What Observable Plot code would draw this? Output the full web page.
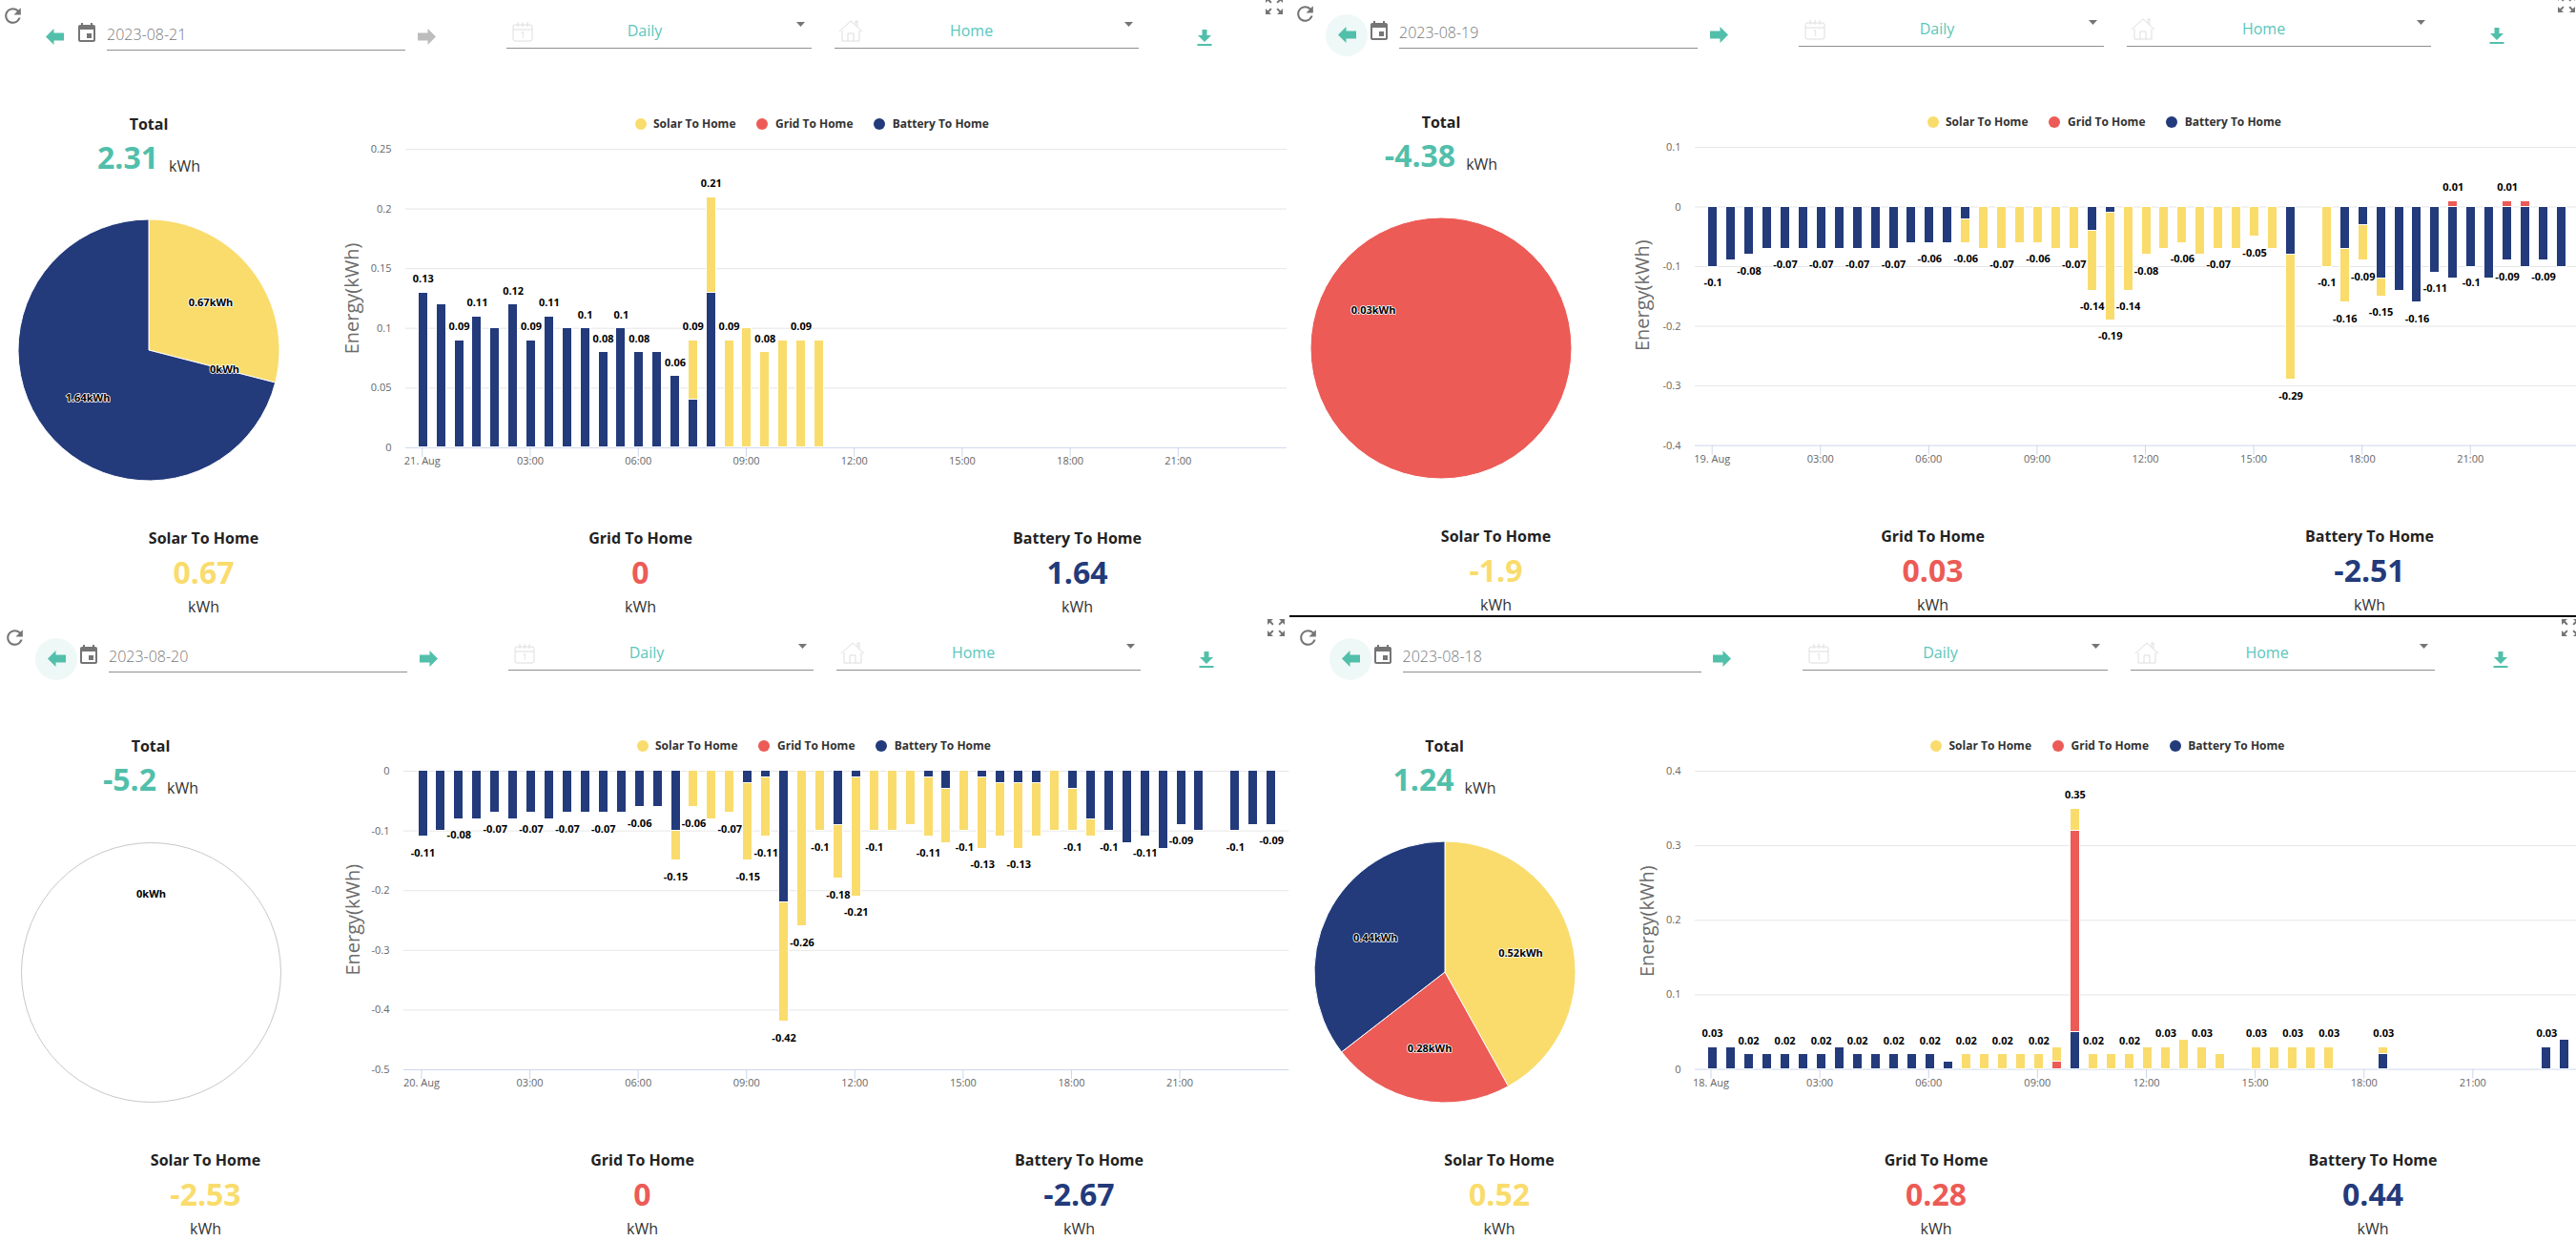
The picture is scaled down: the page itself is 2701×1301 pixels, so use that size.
<!DOCTYPE html>
<html>
<head>
<meta charset="utf-8">
<script src="https://cdn.jsdelivr.net/npm/d3@7"></script>
<script src="https://cdn.jsdelivr.net/npm/@observablehq/plot@0.6"></script>
<style>
html,body{margin:0;padding:0;background:#fff;overflow:hidden}
body{position:relative;width:2701px;height:1301px;font-family:"Open Sans",sans-serif}
.t{position:absolute;transform:translate(-50%,-50%);line-height:1;white-space:nowrap}
.l{position:absolute;transform:translateY(-50%);line-height:1;white-space:nowrap}
.b{position:absolute}
svg.i{position:absolute;overflow:visible}
</style>
</head>
<body>
<script>
// ---------- data (kWh per half hour slot) ----------
const slots = d3.range(48);
const seriesNames = ["Solar To Home", "Grid To Home", "Battery To Home"];
const seriesColors = ["#f9dc6c", "#ec5b56", "#233a7b"];
const hourTicks = [0, 6, 12, 18, 24, 30, 36, 42];
const hourLabels = ["03:00", "06:00", "09:00", "12:00", "15:00", "18:00", "21:00"];

const solar21 = [0,0,0,0,0,0,0,0,0,0,0,0,0,0,0,.05,.08,.09,.10,.08,.09,.09,.09,0,0,0,0,0,0,0,0,0,0,0,0,0,0,0,0,0,0,0,0,0,0,0,0,0];
const grid21 = slots.map(() => 0);
const battery21 = [.13,.12,.09,.11,.10,.12,.09,.11,.10,.10,.08,.10,.08,.08,.06,.04,.13,0,0,0,0,0,0,0,0,0,0,0,0,0,0,0,0,0,0,0,0,0,0,0,0,0,0,0,0,0,0,0];
const labelled21 = [0,2,3,5,6,7,9,10,11,12,14,15,16,17,19,21];
const yTicks21 = [0,.05,.1,.15,.2,.25];

const solar19 = [0,0,0,0,0,0,0,0,0,0,0,0,0,0,-.04,-.07,-.07,-.06,-.06,-.07,-.07,-.10,-.18,-.14,-.08,-.07,-.06,-.08,-.07,-.07,-.05,-.07,-.21,0,-.10,-.09,-.06,-.03,0,0,0,0,0,0,0,0,0,0];
const grid19 = [0,0,0,0,0,0,0,0,0,0,0,0,0,0,0,0,0,0,0,0,0,0,0,0,0,0,0,0,0,0,0,0,0,0,0,0,0,0,0,0,0,.01,0,0,.01,.01,0,0];
const battery19 = [-.10,-.09,-.08,-.07,-.07,-.07,-.07,-.07,-.07,-.07,-.07,-.06,-.06,-.06,-.02,0,0,0,0,0,0,-.04,-.01,0,0,0,0,0,0,0,0,0,-.08,0,0,-.07,-.03,-.12,-.14,-.16,-.11,-.12,-.10,-.12,-.09,-.10,-.09,-.10];
const labelled19 = [0,2,4,6,8,10,12,14,16,18,20,21,22,23,24,26,28,30,32,34,35,36,37,39,40,42,44,46];
const labelledUp19 = [41,44];
const yTicks19 = [-.4,-.3,-.2,-.1,0,.1];

const solar20 = [0,0,0,0,0,0,0,0,0,0,0,0,0,0,-.05,-.06,-.08,-.07,-.13,-.10,-.20,-.26,-.10,-.09,-.20,-.10,-.10,-.09,-.10,-.09,-.10,-.12,-.09,-.11,-.09,-.10,-.07,-.03,0,0,0,0,0,0,0,0,0,0];
const grid20 = slots.map(() => 0);
const battery20 = [-.11,-.10,-.08,-.08,-.07,-.08,-.07,-.08,-.07,-.07,-.07,-.07,-.06,-.06,-.10,0,0,0,-.02,-.01,-.22,0,0,-.09,-.01,0,0,0,-.01,-.03,0,-.01,-.02,-.02,-.02,0,-.03,-.08,-.10,-.12,-.11,-.13,-.09,-.10,0,-.10,-.09,-.09];
const labelled20 = [0,2,4,6,8,10,12,14,15,17,18,19,20,21,22,23,24,25,28,30,31,33,36,38,40,42,45,47];
const yTicks20 = [-.5,-.4,-.3,-.2,-.1,0];

const solar18 = [0,0,0,0,0,0,0,0,0,0,0,0,0,0,.02,.02,.02,.02,.02,.02,.03,.02,.02,.02,.03,.03,.04,.03,.02,0,.03,.03,.03,.03,.03,0,0,.01,0,0,0,0,0,0,0,0,0,0];
const grid18 = [0,0,0,0,0,0,0,0,0,0,0,0,0,0,0,0,0,0,0,.01,.27,0,0,0,0,0,0,0,0,0,0,0,0,0,0,0,0,0,0,0,0,0,0,0,0,0,0,0];
const battery18 = [.03,.03,.02,.02,.02,.02,.02,.03,.02,.02,.02,.02,.02,.01,0,0,0,0,0,0,.05,0,0,0,0,0,0,0,0,0,0,0,0,0,0,0,0,.02,0,0,0,0,0,0,0,0,.03,.04];
const labelled18 = [0,2,4,6,8,10,12,14,16,18,20,21,23,25,27,30,32,34,37,46];
const yTicks18 = [0,.1,.2,.3,.4];

const dates = ["2023-08-21","2023-08-19","2023-08-20","2023-08-18"];
const firstTicks = ["21. Aug","19. Aug","20. Aug","18. Aug"];
const totals = ["2.31","-4.38","-5.2","1.24"];
const solarTotals = ["0.67","-1.9","-2.53","0.52"];
const gridTotals = ["0","0.03","0","0.28"];
const batteryTotals = ["1.64","-2.51","-2.67","0.44"];
const pieValues = [[.67,0,1.64],[0,.03,0],[0,0,0],[.52,.28,.44]];

// ---------- layout of the four dashboards ----------
const panels = [
 {i:0,solar:solar21,grid:grid21,battery:battery21,down:[],up:labelled21,yTicks:yTicks21,dom:[0,.25],yTop:155.5,yBot:468.4,left:425,right:1349,c0:443.3,step:18.87,tickDx:-1,titleX:369,titleY:312,dx:0,dy:0,circle:false,nextOff:true,pie:[156,367]},
 {i:1,solar:solar19,grid:grid19,battery:battery19,down:labelled19,up:labelledUp19,yTicks:yTicks19,dom:[-.4,.1],yTop:153.8,yBot:466.4,left:1777,right:2701,c0:1795.7,step:18.93,tickDx:-1,titleX:1722,titleY:309,dx:1355,dy:-2,circle:true,pie:[1511,365],labelAngle:299},
 {i:2,solar:solar20,grid:grid20,battery:battery20,down:labelled20,up:[],yTicks:yTicks20,dom:[-.5,0],yTop:807.8,yBot:1120.8,left:422.7,right:1351,c0:442.7,step:18.93,tickDx:-1.5,titleX:370,titleY:963.5,dx:2,dy:652,circle:true,pie:[158.4,1019],labelAngle:0},
 {i:3,solar:solar18,grid:grid18,battery:battery18,down:[],up:labelled18,yTicks:yTicks18,dom:[0,.4],yTop:807.8,yBot:1120.4,left:1777,right:2701,c0:1795,step:19.02,tickDx:-1.5,titleX:1727,titleY:965,dx:1358.5,dy:652,circle:true,pie:[1515.3,1019]}
];
const PIE_R = 137;

// ---------- helpers ----------
const body = document.body;
function text(cls,x,y,str,style){
  const d=document.createElement("div");d.className=cls;d.textContent=str;
  d.style.left=x+"px";d.style.top=y+"px";Object.assign(d.style,style||{});body.appendChild(d);return d;
}
function box(x,y,w,h,color,extra){
  const d=document.createElement("div");d.className="b";
  Object.assign(d.style,{left:x+"px",top:y+"px",width:w+"px",height:h+"px",background:color},extra||{});
  body.appendChild(d);
}
function icon(x,y,size,vb,inner){
  const s=document.createElementNS("http://www.w3.org/2000/svg","svg");
  s.setAttribute("class","i");s.setAttribute("viewBox",vb);s.setAttribute("width",size);s.setAttribute("height",size);
  s.style.left=(x-size/2)+"px";s.style.top=(y-size/2)+"px";s.innerHTML=inner;body.appendChild(s);
}
const TEAL="#52bfab", GREY="#757575", LIGHT="#dedede";
const ICON_REFRESH='<path fill="'+GREY+'" d="M17.65 6.35A7.958 7.958 0 0 0 12 4c-4.42 0-7.99 3.58-7.99 8s3.57 8 7.99 8c3.73 0 6.84-2.55 7.73-6h-2.08A5.99 5.99 0 0 1 12 18c-3.31 0-6-2.69-6-6s2.69-6 6-6c1.66 0 3.14.69 4.22 1.78L13 11h7V4l-2.35 2.35z"/>';
const ICON_EVENT='<path fill="'+GREY+'" d="M17 12h-5v5h5v-5zM16 1v2H8V1H6v2H5c-1.11 0-1.99.9-1.99 2L3 19a2 2 0 0 0 2 2h14c1.1 0 2-.9 2-2V5c0-1.1-.9-2-2-2h-1V1h-2zm3 18H5V8h14v11z"/>';
const ICON_EXPAND='<path fill="'+GREY+'" d="M15 3l2.3 2.3-2.89 2.87 1.42 1.42L18.7 6.7 21 9V3zM3 9l2.3-2.3 2.87 2.89 1.42-1.42L6.7 5 9 3H3zm6 12l-2.3-2.3 2.89-2.87-1.42-1.42L5.3 17.3 3 15v6zm12-6l-2.3 2.3-2.87-2.89-1.42 1.42 2.89 2.87L15 21h6z"/>';
const arrow=(c,flip)=>'<polygon fill="'+c+'" points="0,9.5 8.5,1 8.5,5.5 19,5.5 19,13.5 8.5,13.5 8.5,18" '+(flip?'transform="translate(19,0) scale(-1,1)"':'')+'/>';
const ICON_DOWNLOAD='<polygon fill="'+TEAL+'" points="5.5,0 10.5,0 10.5,6 15,6 8,13 1,6 5.5,6"/><rect fill="'+TEAL+'" x="0.5" y="15" width="15" height="2"/>';
const ICON_CAL1='<g fill="none" stroke="'+LIGHT+'" stroke-width="1"><rect x="1" y="4" width="20" height="17" rx="2"/><path d="M1 9H21M6 1V6M11 1V6M16 1V6"/></g><text x="11" y="18" font-size="9" text-anchor="middle" fill="'+LIGHT+'" font-family="Open Sans">1</text>';
const ICON_HOUSE='<g fill="none" stroke="'+LIGHT+'" stroke-width="1"><path d="M1 13L13 2L25 13M4 12V23H22V12M18 6V2H20V8M10 23V15H16V23"/></g>';
const CARET='<polygon fill="'+GREY+'" points="0,0 9,0 4.5,5"/>';

function header(p){
  const {dx,dy}=p;
  icon(13+dx,16+dy,25,"0 0 24 24",ICON_REFRESH);
  if(p.circle) box(57+dx-22,38.5+dy-22,44,44,"#eef8f7",{borderRadius:"50%"});
  icon(57.5+dx,38+dy,19,"0 0 19 19",arrow(TEAL,false));
  icon(91+dx,35+dy,24,"0 0 24 24",ICON_EVENT);
  text("l",112+dx,36+dy,dates[p.i],{fontSize:"16px",color:"#777",fontWeight:300});
  box(112+dx,51.6+dy,313,1.4,"#8f8f8f");
  icon(447+dx,38+dy,19,"0 0 19 19",arrow(p.nextOff?"#bdbdbd":TEAL,true));
  icon(548+dx,33+dy,22,"0 0 22 22",ICON_CAL1);
  text("t",676+dx,32+dy,"Daily",{fontSize:"16px",color:"#5cc6bb"});
  icon(839+dx,27+dy,9,"0 0 9 9",CARET);
  box(531+dx,50+dy,320,1.4,"#8f8f8f");
  icon(892+dx,33+dy,26,"0 0 26 26",ICON_HOUSE);
  text("t",1018.5+dx,32+dy,"Home",{fontSize:"16px",color:"#5cc6bb"});
  icon(1183+dx,27+dy,9,"0 0 9 9",CARET);
  box(875+dx,50+dy,319,1.4,"#8f8f8f");
  icon(1263.5+dx,39+dy,17,"0 0 17 17",ICON_DOWNLOAD);
  icon(1336+dx,6+dy,24,"0 0 24 24",ICON_EXPAND);
}
function summary(p){
  const {dx,dy,i}=p;
  text("t",156+dx,130+dy,"Total",{fontSize:"16px",fontWeight:700,color:"#222"});
  const v=text("l",0,164.5+dy,totals[i],{fontSize:"32px",fontWeight:700,color:TEAL});
  const u=text("l",0,174+dy,"kWh",{fontSize:"16px",color:"#333"});
  const w=v.getBoundingClientRect().width, gap=11, uw=u.getBoundingClientRect().width;
  const start=156+dx-(w+gap+uw)/2;
  v.style.left=start+"px"; u.style.left=(start+w+gap)+"px";
  const cols=[213.5,671.5,1129.5], vals=[solarTotals,gridTotals,batteryTotals];
  seriesNames.forEach((n,k)=>{
    text("t",cols[k]+dx,563.5+dy,n,{fontSize:"16px",fontWeight:700,color:"#222"});
    text("t",cols[k]+dx,599.5+dy,vals[k][i],{fontSize:"32px",fontWeight:700,color:seriesColors[k]});
    text("t",cols[k]+dx,635.5+dy,"kWh",{fontSize:"16px",color:"#333"});
  });
  const dots=[671.7,799,922], labs=[685,813,935.7];
  seriesNames.forEach((n,k)=>{
    box(dots[k]-6+dx,124+dy,12,12,seriesColors[k],{borderRadius:"50%"});
    text("l",labs[k]+dx,130+dy,n,{fontSize:"12px",fontWeight:700,color:"#333"});
  });
}
function rowsOf(p){
  const rows=[];
  slots.forEach(s=>{
    [[p.battery,2],[p.grid,1],[p.solar,0]].forEach(([arr,k])=>{
      if(arr[s]!==0) rows.push({slot:s,value:arr[s],series:seriesNames[k]});
    });
  });
  return rows;
}
function barChart(p){
  const mL=90,mT=30,mB=40;
  const svgLeft=p.left-mL, svgTop=p.yTop-mT;
  const width=p.right-svgLeft, height=(p.yBot-p.yTop)+mT+mB;
  const toLocal=v=>v-svgLeft;
  const r0=toLocal(p.c0-p.step/2), r1=r0+48*p.step;
  const barShare=10/p.step, pad=1-barShare;
  const tot=(s,sign)=>+[p.solar[s],p.grid[s],p.battery[s]].filter(v=>v*sign>0).reduce((a,b)=>a+b,0).toFixed(2);
  const upRows=p.up.map(s=>({slot:s,total:tot(s,1)}));
  const downRows=p.down.map(s=>({slot:s,total:tot(s,-1)}));
  const labelStyle={x:"slot",y:"total",text:d=>String(d.total),fontSize:11,fontWeight:700,fill:"#000",stroke:"#fff",strokeWidth:1.6};
  const frameCx=(p.left+p.right)/2, frameCy=(p.yTop+p.yBot)/2;
  const svg=Plot.plot({
    width,height,marginLeft:mL,marginRight:0,marginTop:mT,marginBottom:mB,
    style:{position:"absolute",left:svgLeft+"px",top:svgTop+"px",maxWidth:"none",fontFamily:"Open Sans",background:"transparent",overflow:"visible"},
    x:{type:"band",domain:slots,range:[r0,r1],paddingInner:pad,paddingOuter:pad/2,round:false},
    y:{domain:p.dom,range:[p.yBot-svgTop,p.yTop-svgTop]},
    color:{domain:seriesNames,range:seriesColors},
    marks:[
      Plot.ruleY(p.yTicks.filter(t=>t!==d3.min(p.yTicks)),{stroke:"#e6e6e6",strokeWidth:1}),
      Plot.ruleY([d3.min(p.yTicks)],{stroke:"#ccd6eb",strokeWidth:1}),
      Plot.axisY({ticks:p.yTicks,tickSize:0,tickPadding:15,tickFormat:d=>String(d),fontSize:11,color:"#666",label:null}),
      Plot.axisX({ticks:hourTicks,tickSize:10,tickPadding:0,dx:p.tickDx,fontSize:11,color:"#666",stroke:"#ccd6eb",label:null,
        tickFormat:(d,n)=>[firstTicks[p.i],...hourLabels][hourTicks.indexOf(d)]}),
      Plot.barY(rowsOf(p),{x:"slot",y:"value",fill:"series",stroke:"#fff",strokeWidth:1,shapeRendering:"crispEdges"}),
      Plot.text(upRows,{...labelStyle,dy:-14}),
      Plot.text(downRows,{...labelStyle,dy:17}),
      Plot.text(["Energy(kWh)"],{frameAnchor:"middle",dx:p.titleX-frameCx,dy:p.titleY-frameCy,rotate:-90,fontSize:"20px",fill:"#6b6b6b",textAnchor:"middle",lineAnchor:"middle"})
    ]
  });
  body.appendChild(svg);
}
function pieChart(p){
  const vals=pieValues[p.i], sum=d3.sum(vals);
  const m=6, size=2*PIE_R+2*m;
  const arcs=sum>0?d3.pie().sort(null)(vals):[];
  const labelRows=[];
  const lr=81.6/PIE_R;
  if(sum>0){
    arcs.forEach((a,k)=>{
      const ang=p.labelAngle!==undefined?p.labelAngle*Math.PI/180:(a.startAngle+a.endAngle)/2;
      if(vals[k]>0||p.i===0) labelRows.push({x:lr*Math.sin(ang),y:lr*Math.cos(ang),t:vals[k]+"kWh"});
    });
  }else{
    const ang=p.labelAngle*Math.PI/180;
    labelRows.push({x:lr*Math.sin(ang),y:lr*Math.cos(ang),t:"0kWh"});
  }
  const svg=Plot.plot({
    width:size,height:size,margin:m,
    style:{position:"absolute",left:(p.pie[0]-size/2)+"px",top:(p.pie[1]-size/2)+"px",maxWidth:"none",fontFamily:"Open Sans",background:"transparent",overflow:"visible"},
    x:{domain:[-1,1],axis:null},y:{domain:[-1,1],axis:null},
    marks:[
      sum>0?null:Plot.dot([0],{x:()=>0,y:()=>0,r:PIE_R-1,stroke:"#c8c8c8",strokeWidth:1,fill:"none"}),
      (index,{x,y})=>{
        const g=d3.create("svg:g").attr("transform",`translate(${x(0)},${y(0)})`);
        const radius=x(1)-x(0), arcGen=d3.arc().innerRadius(0).outerRadius(radius);
        g.selectAll("path").data(arcs.filter(a=>a.value>0)).join("path")
          .attr("d",arcGen).attr("fill",a=>seriesColors[a.index]).attr("stroke","#fff").attr("stroke-width",1);
        return g.node();
      },
      Plot.text(labelRows,{x:"x",y:"y",text:"t",fontSize:11,fontWeight:700,fill:"#000",stroke:"#fff",strokeWidth:1.6})
    ]
  });
  body.appendChild(svg);
}
panels.forEach(p=>{header(p);summary(p);barChart(p);pieChart(p);});
box(1352,645,1349,1.6,"#000");
</script>
</body>
</html>
